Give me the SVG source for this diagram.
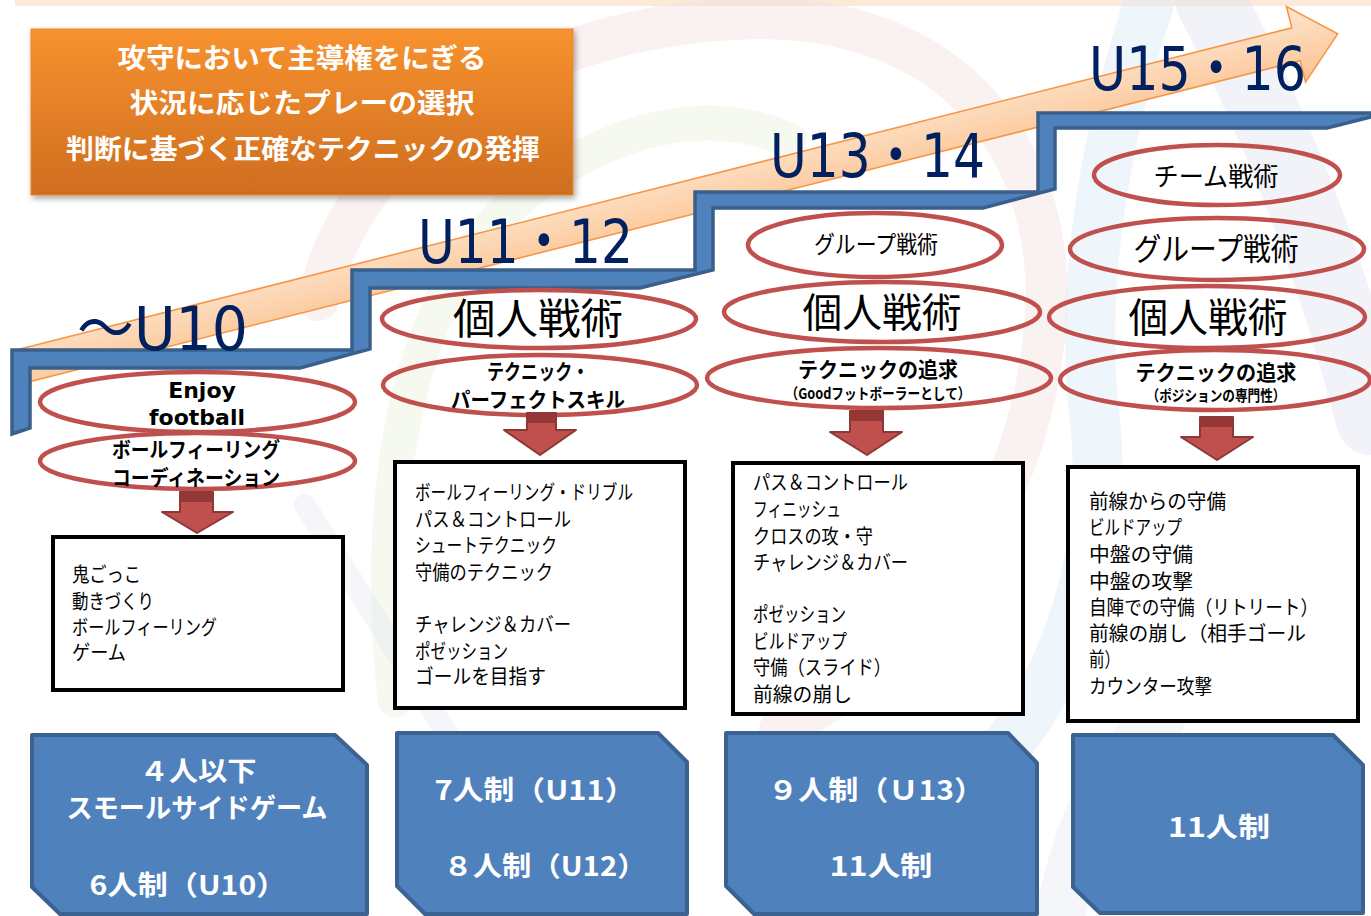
<svg xmlns="http://www.w3.org/2000/svg" width="1371" height="916" viewBox="0 0 1371 916">
<defs>
  <linearGradient id="gOrange" x1="0" y1="0" x2="0" y2="1">
    <stop offset="0" stop-color="#f8922f"/>
    <stop offset="1" stop-color="#cf6d1f"/>
  </linearGradient>
  <linearGradient id="gArrow" x1="0" y1="0" x2="0" y2="1">
    <stop offset="0" stop-color="#fde6d0"/>
    <stop offset="1" stop-color="#fbc28f"/>
  </linearGradient>
  <filter id="shadow" x="-10%" y="-10%" width="120%" height="130%">
    <feDropShadow dx="2" dy="3" stdDeviation="3" flood-color="#000" flood-opacity="0.35"/>
  </filter>
  <style>
    .jp{font-family:"Noto Sans CJK JP","Noto Sans",sans-serif;}
    .ell{fill:none;stroke:#c0504d;stroke-width:4.5;}
    .wbox{fill:#fff;stroke:#000;stroke-width:4;}
    .bbox{fill:#4f81bd;stroke:#3b6290;stroke-width:4;stroke-linejoin:round;}
    .btext{font-size:27px;font-weight:bold;fill:#fff;text-anchor:middle;}
    .ltext{font-size:20px;fill:#000;}
    .etext{fill:#000;text-anchor:middle;}
    .bold{font-weight:bold;}
    .age{font-family:"DejaVu Sans","Noto Sans CJK JP",sans-serif;font-size:60px;fill:#002060;}
    .darrow{fill:#c0504d;stroke:#8c3836;stroke-width:2;stroke-linejoin:round;}
    .dtop{fill:#953735;}
    .bg{fill:none;stroke-linecap:round;}
  </style>
</defs>

<rect x="0" y="0" width="1371" height="916" fill="#ffffff"/>

<!-- background watermark arcs -->
<g id="background">
  <rect x="15" y="0" width="1356" height="6" fill="#fce9da"/>
  <path class="bg" d="M 318 300 C 360 120 560 20 760 18 C 980 20 1060 180 1045 330 C 1030 480 950 640 780 730" stroke="#f2dcdb" stroke-width="42" opacity="0.4"/>
  <path class="bg" d="M 395 700 C 370 450 420 250 560 170 C 640 120 720 110 790 140" stroke="#ebf1de" stroke-width="35" opacity="0.45"/>
  <path class="bg" d="M 1150 0 C 1100 150 1080 300 1095 420 C 1110 560 1060 720 950 800" stroke="#dcebf7" stroke-width="50" opacity="0.45"/>
  <path class="bg" d="M 1210 0 C 1290 150 1340 300 1371 420" stroke="#dfe5ef" stroke-width="70" opacity="0.45"/>
  <path class="bg" d="M 1060 916 C 1080 820 1110 760 1160 720" stroke="#e3e8f1" stroke-width="50" opacity="0.4"/>
  <path class="bg" d="M 305 505 L 448 735" stroke="#e3e9f2" stroke-width="22" opacity="0.4"/>
</g>

<!-- rising arrow -->
<g id="growth-arrow" transform="translate(12,351) rotate(-14.17)">
  <path d="M 0 0 L 1320 0 L 1320 -22 L 1363 17 L 1320 56 L 1320 34 L 0 34 Z" fill="url(#gArrow)" stroke="#f79646" stroke-width="1.6" stroke-linejoin="miter"/>
</g>

<!-- goal box -->
<g id="goal-box">
  <rect x="31" y="29" width="542" height="166" fill="url(#gOrange)" stroke="#e8862e" stroke-width="1" filter="url(#shadow)"/>
  <text class="jp bold" x="302" y="68" font-size="27" fill="#fff" text-anchor="middle" textLength="369" lengthAdjust="spacingAndGlyphs">攻守において主導権をにぎる</text>
  <text class="jp bold" x="302" y="113" font-size="27" fill="#fff" text-anchor="middle" textLength="345" lengthAdjust="spacingAndGlyphs">状況に応じたプレーの選択</text>
  <text class="jp bold" x="303" y="159" font-size="27" fill="#fff" text-anchor="middle" textLength="474" lengthAdjust="spacingAndGlyphs">判断に基づく正確なテクニックの発揮</text>
</g>

<!-- staircase -->
<g id="staircase">
  <polygon points="12,434 12,350 352,350 352,270 695,270 695,192 1038,192 1038,113 1371,113 1371,117 1327,128 1055,128 1055,189 983,208 713,208 713,270 640,288 370,288 370,349 300,368 30,368 30,428" fill="#4f81bd" stroke="#3a5f8b" stroke-width="3.5" stroke-linejoin="miter"/>
</g>

<!-- age labels -->
<g id="age-labels">
  <text class="age" x="77" y="350" textLength="171" lengthAdjust="spacingAndGlyphs">～U10</text>
  <text class="age" x="418" y="263" textLength="215" lengthAdjust="spacingAndGlyphs">U11・12</text>
  <text class="age" x="770" y="177" textLength="215" lengthAdjust="spacingAndGlyphs">U13・14</text>
  <text class="age" x="1089" y="90" textLength="217" lengthAdjust="spacingAndGlyphs">U15・16</text>
</g>

<!-- column 1 -->
<g id="col1-enjoy">
  <ellipse class="ell" cx="197.5" cy="402" rx="157.5" ry="30"/>
  <text class="etext" x="202" y="398" font-family="DejaVu Sans, sans-serif" font-weight="bold" font-size="22">Enjoy</text>
  <text class="etext" x="197" y="425" font-family="DejaVu Sans, sans-serif" font-weight="bold" font-size="22">football</text>
</g>
<g id="col1-coordination">
  <ellipse class="ell" cx="197.5" cy="461" rx="157.5" ry="28"/>
  <text class="jp etext bold" x="196" y="457" font-size="21" textLength="168" lengthAdjust="spacingAndGlyphs">ボールフィーリング</text>
  <text class="jp etext bold" x="196" y="485" font-size="21" textLength="168" lengthAdjust="spacingAndGlyphs">コーディネーション</text>
</g>
<g id="col1-content">
  <rect class="wbox" x="53" y="537" width="290" height="153"/>
  <text class="jp ltext" x="72" y="582" textLength="69" lengthAdjust="spacingAndGlyphs">鬼ごっこ</text>
  <text class="jp ltext" x="72" y="609" textLength="82" lengthAdjust="spacingAndGlyphs">動きづくり</text>
  <text class="jp ltext" x="72" y="635" textLength="145" lengthAdjust="spacingAndGlyphs">ボールフィーリング</text>
  <text class="jp ltext" x="72" y="660" textLength="54" lengthAdjust="spacingAndGlyphs">ゲーム</text>
</g>
<g id="col1-format">
  <polygon class="bbox" points="32,735 335,735 367,765 367,914 60,914 32,887"/>
  <text class="jp btext" x="198" y="781" textLength="117" lengthAdjust="spacingAndGlyphs">４人以下</text>
  <text class="jp btext" x="197" y="818" textLength="261" lengthAdjust="spacingAndGlyphs">スモールサイドゲーム</text>
  <text class="jp btext" x="188" y="895" textLength="197" lengthAdjust="spacingAndGlyphs">6人制（U10）</text>
</g>

<!-- column 2 -->
<g id="col2-individual">
  <ellipse class="ell" cx="539" cy="319" rx="157" ry="29"/>
  <text class="jp etext" x="538" y="334" font-size="42" textLength="170" lengthAdjust="spacingAndGlyphs">個人戦術</text>
</g>
<g id="col2-technique">
  <ellipse class="ell" cx="540" cy="385" rx="157" ry="30"/>
  <text class="jp etext bold" x="538" y="379" font-size="21" textLength="102" lengthAdjust="spacingAndGlyphs">テクニック・</text>
  <text class="jp etext bold" x="538" y="407" font-size="21" textLength="174" lengthAdjust="spacingAndGlyphs">パーフェクトスキル</text>
</g>
<g id="col2-content">
  <rect class="wbox" x="395" y="462" width="290" height="246"/>
  <text class="jp ltext" x="415" y="500" textLength="218" lengthAdjust="spacingAndGlyphs">ボールフィーリング・ドリブル</text>
  <text class="jp ltext" x="415" y="527" textLength="156" lengthAdjust="spacingAndGlyphs">パス＆コントロール</text>
  <text class="jp ltext" x="415" y="553" textLength="142" lengthAdjust="spacingAndGlyphs">シュートテクニック</text>
  <text class="jp ltext" x="415" y="580" textLength="138" lengthAdjust="spacingAndGlyphs">守備のテクニック</text>
  <text class="jp ltext" x="415" y="632" textLength="156" lengthAdjust="spacingAndGlyphs">チャレンジ＆カバー</text>
  <text class="jp ltext" x="415" y="659" textLength="93" lengthAdjust="spacingAndGlyphs">ポゼッション</text>
  <text class="jp ltext" x="415" y="684" textLength="131" lengthAdjust="spacingAndGlyphs">ゴールを目指す</text>
</g>
<g id="col2-format">
  <polygon class="bbox" points="397,733 658,733 687,762 687,914 425,914 397,886"/>
  <text class="jp btext" x="535" y="800" textLength="201" lengthAdjust="spacingAndGlyphs">7人制（U11）</text>
  <text class="jp btext" x="545" y="876" textLength="203" lengthAdjust="spacingAndGlyphs">８人制（U12）</text>
</g>

<!-- column 3 -->
<g id="col3-group">
  <ellipse class="ell" cx="875" cy="245" rx="127" ry="32"/>
  <text class="jp etext" x="876" y="253" font-size="24" textLength="124" lengthAdjust="spacingAndGlyphs">グループ戦術</text>
</g>
<g id="col3-individual">
  <ellipse class="ell" cx="882" cy="312" rx="158" ry="30"/>
  <text class="jp etext" x="882" y="327" font-size="40" textLength="159" lengthAdjust="spacingAndGlyphs">個人戦術</text>
</g>
<g id="col3-technique">
  <ellipse class="ell" cx="879" cy="378" rx="172" ry="30"/>
  <text class="jp etext bold" x="878" y="377" font-size="21" textLength="160" lengthAdjust="spacingAndGlyphs">テクニックの追求</text>
  <text class="jp etext bold" x="878" y="399" font-size="15" textLength="185" lengthAdjust="spacingAndGlyphs">（Goodフットボーラーとして）</text>
</g>
<g id="col3-content">
  <rect class="wbox" x="733" y="463" width="290" height="251"/>
  <text class="jp ltext" x="753" y="490" textLength="155" lengthAdjust="spacingAndGlyphs">パス＆コントロール</text>
  <text class="jp ltext" x="753" y="517" textLength="88" lengthAdjust="spacingAndGlyphs">フィニッシュ</text>
  <text class="jp ltext" x="753" y="544" textLength="120" lengthAdjust="spacingAndGlyphs">クロスの攻・守</text>
  <text class="jp ltext" x="753" y="570" textLength="155" lengthAdjust="spacingAndGlyphs">チャレンジ＆カバー</text>
  <text class="jp ltext" x="753" y="622" textLength="93" lengthAdjust="spacingAndGlyphs">ポゼッション</text>
  <text class="jp ltext" x="753" y="649" textLength="94" lengthAdjust="spacingAndGlyphs">ビルドアップ</text>
  <text class="jp ltext" x="753" y="675" textLength="138" lengthAdjust="spacingAndGlyphs">守備（スライド）</text>
  <text class="jp ltext" x="753" y="702" textLength="99" lengthAdjust="spacingAndGlyphs">前線の崩し</text>
</g>
<g id="col3-format">
  <polygon class="bbox" points="726,733 1008,733 1037,763 1037,914 754,914 726,886"/>
  <text class="jp btext" x="876" y="800" textLength="216" lengthAdjust="spacingAndGlyphs">９人制（Ｕ13）</text>
  <text class="jp btext" x="881" y="876" textLength="103" lengthAdjust="spacingAndGlyphs">11人制</text>
</g>

<!-- column 4 -->
<g id="col4-team">
  <ellipse class="ell" cx="1217" cy="175" rx="123" ry="30"/>
  <text class="jp etext" x="1216" y="186" font-size="26" textLength="125" lengthAdjust="spacingAndGlyphs">チーム戦術</text>
</g>
<g id="col4-group">
  <ellipse class="ell" cx="1217" cy="249" rx="147" ry="31"/>
  <text class="jp etext" x="1216" y="260" font-size="31" textLength="165" lengthAdjust="spacingAndGlyphs">グループ戦術</text>
</g>
<g id="col4-individual">
  <ellipse class="ell" cx="1207" cy="317" rx="158" ry="31"/>
  <text class="jp etext" x="1208" y="332" font-size="40" textLength="159" lengthAdjust="spacingAndGlyphs">個人戦術</text>
</g>
<g id="col4-technique">
  <ellipse class="ell" cx="1215" cy="380" rx="155" ry="30"/>
  <text class="jp etext bold" x="1216" y="380" font-size="21" textLength="161" lengthAdjust="spacingAndGlyphs">テクニックの追求</text>
  <text class="jp etext bold" x="1216" y="401" font-size="15" textLength="139" lengthAdjust="spacingAndGlyphs">（ポジションの専門性）</text>
</g>
<g id="col4-content">
  <rect class="wbox" x="1068" y="467" width="290" height="254"/>
  <text class="jp ltext" x="1089" y="509" textLength="137" lengthAdjust="spacingAndGlyphs">前線からの守備</text>
  <text class="jp ltext" x="1089" y="535" textLength="93" lengthAdjust="spacingAndGlyphs">ビルドアップ</text>
  <text class="jp ltext" x="1089" y="562" textLength="104" lengthAdjust="spacingAndGlyphs">中盤の守備</text>
  <text class="jp ltext" x="1089" y="589" textLength="104" lengthAdjust="spacingAndGlyphs">中盤の攻撃</text>
  <text class="jp ltext" x="1089" y="615" textLength="229" lengthAdjust="spacingAndGlyphs">自陣での守備（リトリート）</text>
  <text class="jp ltext" x="1089" y="641" textLength="217" lengthAdjust="spacingAndGlyphs">前線の崩し（相手ゴール</text>
  <text class="jp ltext" x="1089" y="667" textLength="31" lengthAdjust="spacingAndGlyphs">前）</text>
  <text class="jp ltext" x="1089" y="694" textLength="123" lengthAdjust="spacingAndGlyphs">カウンター攻撃</text>
</g>
<g id="col4-format">
  <polygon class="bbox" points="1073,735 1333,735 1363,765 1363,913 1100,913 1073,887"/>
  <text class="jp btext" x="1219" y="837" textLength="102" lengthAdjust="spacingAndGlyphs">11人制</text>
</g>

<!-- connectors: down arrows -->
<g id="connectors">
  <polygon class="darrow" points="180,492 213,492 213,512 233,512 197,533 162,512 180,512"/>
  <rect class="dtop" x="181" y="493" width="31" height="9"/>
  <polygon class="darrow" points="527,413 556,413 556,430 576,430 540,455 504,430 527,430"/>
  <rect class="dtop" x="528" y="414" width="27" height="9"/>
  <polygon class="darrow" points="850,411 883,411 883,432 902,432 867,455 830,432 850,432"/>
  <rect class="dtop" x="851" y="412" width="31" height="9"/>
  <polygon class="darrow" points="1200,417 1233,417 1233,437 1253,437 1217,460 1181,437 1200,437"/>
  <rect class="dtop" x="1201" y="418" width="31" height="9"/>
</g>
</svg>
